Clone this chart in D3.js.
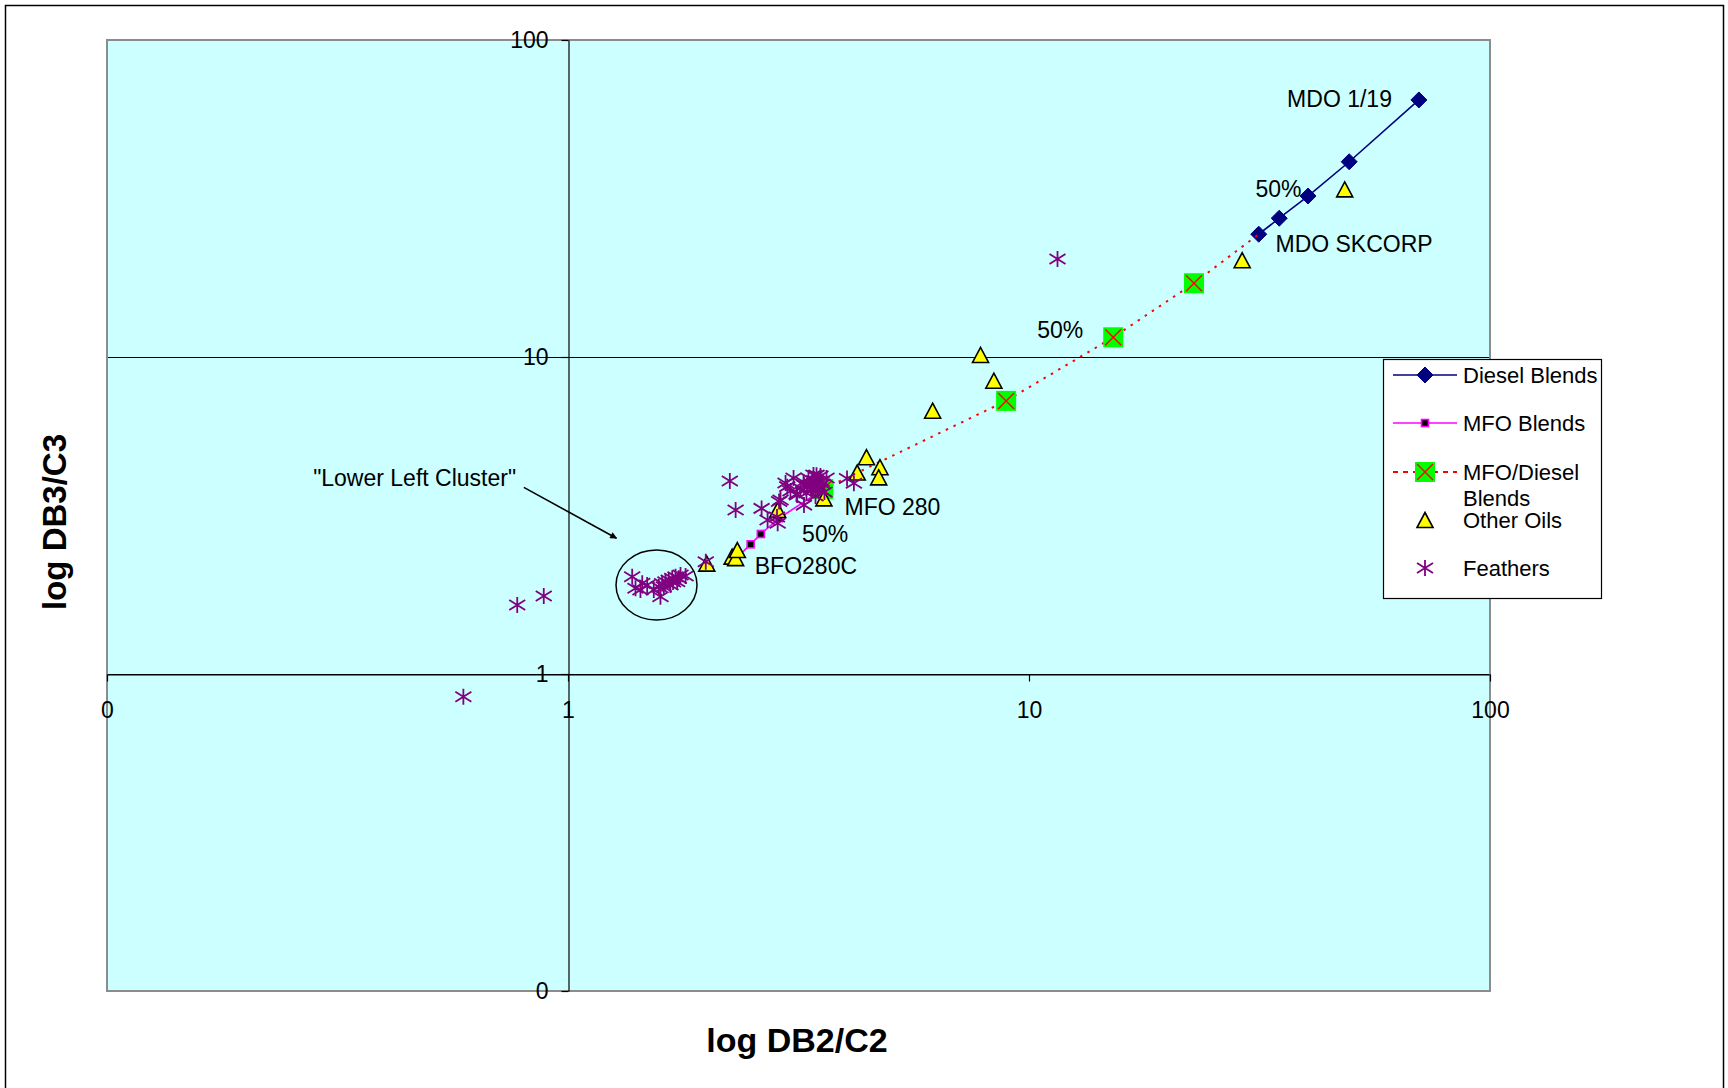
<!DOCTYPE html>
<html>
<head>
<meta charset="utf-8">
<script src="https://cdn.jsdelivr.net/npm/d3@7"></script>
<style>
  html, body { margin: 0; padding: 0; background: #ffffff; }
  svg { display: block; }
  text { font-family: "Liberation Sans", Arial, sans-serif; }
</style>
</head>
<body>
<svg id="chart" width="1728" height="1088"></svg>
<script>
// ---------------- DATA ----------------
const xTicks = [0.1, 1, 10, 100];
const yTicks = [0.1, 1, 10, 100];
const xTitle = "log DB2/C2";
const yTitle = "log DB3/C3";

const seriesNames = ["Diesel Blends", "MFO Blends", "MFO/Diesel Blends", "Other Oils", "Feathers"];

const dieselX = [31.5, 34.9, 40.3, 49.5, 70.1];
const dieselY = [24.4, 27.4, 32.2, 41.3, 64.7];

const mfoX = [2.36, 2.49, 2.62, 2.87, 3.58];
const mfoY = [2.38, 2.565, 2.765, 3.10, 3.83];

const mfoDieselX = [3.58, 8.92, 15.23, 22.8, 31.5];
const mfoDieselY = [3.83, 7.27, 11.54, 17.09, 24.4];

const otherX = [2.00, 2.27, 2.31, 2.33, 2.85, 3.59, 4.24, 4.44, 4.75, 4.72, 6.18, 7.85, 8.39, 29.0, 48.4];
const otherY = [2.23, 2.345, 2.32, 2.46, 3.29, 3.58, 4.32, 4.83, 4.49, 4.17, 6.77, 10.15, 8.42, 20.2, 33.8];

const featherX = [
  0.593, 0.776, 0.886, 11.53,
  1.378, 1.401, 1.449, 1.485, 1.535, 1.587, 1.574, 1.627, 1.654, 1.683, 1.711, 1.754, 1.799, 1.725, 1.668, 1.614, 1.436, 1.60, 1.69, 1.74,
  1.99, 2.244, 2.31, 2.63, 2.71, 2.85, 2.84, 2.87, 2.99, 3.14, 3.25, 3.46,
  2.964, 3.085, 3.194, 3.291, 3.408, 3.529, 3.357, 3.46, 3.565, 3.243, 3.392, 3.494, 3.131, 3.637, 3.324, 3.038, 3.60, 3.443, 2.891,
  3.30, 3.37, 3.42, 3.50, 3.25, 3.55,
  4.03, 4.17
];
const featherY = [
  0.848, 1.651, 1.762, 20.38,
  2.028, 1.864, 1.932, 1.909, 1.841, 1.753, 1.886, 1.955, 1.979, 2.004, 2.028, 2.052, 2.038, 1.955, 1.909, 1.886, 1.841, 1.93, 1.95, 2.00,
  2.26, 4.06, 3.29, 3.33, 3.06, 2.99, 3.13, 3.50, 3.90, 3.67, 3.41, 4.24,
  4.005, 4.152, 3.862, 3.724, 4.244, 4.213, 3.947, 4.005, 3.976, 4.034, 3.805, 3.805, 3.697, 4.152, 4.152, 3.779, 3.751, 3.643, 3.539,
  3.90, 3.85, 4.08, 3.92, 3.95, 4.05,
  4.14, 4.00
];

const annoText = ["MDO 1/19", "50%", "MDO SKCORP", "50%", "MFO 280", "50%", "BFO280C", "\"Lower Left Cluster\""];
const annoX    = [36.3, 31.0, 34.25, 10.42, 3.98, 3.22, 2.542, 0.280];
const annoY    = [61.6, 32.0, 21.5, 11.48, 3.17, 2.615, 2.063, 3.92];

const arrowFrom = [0.802, 3.88];
const arrowTo   = [1.274, 2.68];
const clusterCenter = [1.556, 1.909];

// ---------------- LAYOUT ----------------
const svg = d3.select("#chart");
const plot = { left: 107, right: 1490, top: 40, bottom: 991 };
const fontSize = 23;

const x = d3.scaleLog().domain([0.1, 100]).range([plot.left, plot.right]);
const y = d3.scaleLog().domain([0.1, 100]).range([plot.bottom, plot.top]);

// outer chart border (bottom edge lies just outside the picture)
svg.append("rect").attr("x", 5.5).attr("y", 5.5).attr("width", 1718).attr("height", 1090)
  .attr("fill", "#ffffff").attr("stroke", "#000000").attr("stroke-width", 1.5);

// plot background
svg.append("rect").attr("x", plot.left).attr("y", plot.top)
  .attr("width", plot.right - plot.left).attr("height", plot.bottom - plot.top)
  .attr("fill", "#CCFFFF");

// horizontal gridlines
svg.append("g").selectAll("line").data(yTicks).join("line")
  .attr("x1", plot.left).attr("x2", plot.right)
  .attr("y1", d => Math.round(y(d)) + 0.5).attr("y2", d => Math.round(y(d)) + 0.5)
  .attr("stroke", "#000000").attr("stroke-width", 1.2);

// plot border (grey)
svg.append("rect").attr("x", plot.left).attr("y", plot.top)
  .attr("width", plot.right - plot.left).attr("height", plot.bottom - plot.top)
  .attr("fill", "none").attr("stroke", "#8c8c8c").attr("stroke-width", 2);

const fmt = d => d3.format(".0f")(d);

// y axis crossing at x = 1
const yAxis = svg.append("g")
  .attr("transform", `translate(${Math.round(x(1)) + 0.5},0)`)
  .call(d3.axisLeft(y).tickValues(yTicks).tickFormat(fmt).tickSize(7).tickSizeOuter(0).tickPadding(13));
// x axis crossing at y = 1
const xAxis = svg.append("g")
  .attr("transform", `translate(0,${Math.round(y(1)) + 0.5})`)
  .call(d3.axisBottom(x).tickValues(xTicks).tickFormat(fmt).tickSize(7).tickSizeOuter(0).tickPadding(20));

[yAxis, xAxis].forEach(a => {
  a.selectAll("path.domain").attr("stroke", "#000000").attr("stroke-width", 1.2);
  a.selectAll(".tick line").attr("stroke", "#000000").attr("stroke-width", 1.2);
  a.selectAll("text").attr("font-size", fontSize).attr("fill", "#000000")
    .attr("font-family", "'Liberation Sans', Arial, sans-serif");
});

// axis titles
svg.append("text").attr("x", 797).attr("y", 1052).attr("text-anchor", "middle")
  .attr("font-size", 34).attr("font-weight", "bold").text(xTitle);
svg.append("text").attr("transform", "translate(66,522) rotate(-90)").attr("text-anchor", "middle")
  .attr("font-size", 33).attr("font-weight", "bold").text(yTitle);

// ---------------- MARKERS ----------------
const diamondPath = "M0,-8L8,0L0,8L-8,0Z";
const trianglePath = "M0,-7.5L8,7.5L-8,7.5Z";
const starPath = "M0,-8V8M-8,-5L8,5M-8,5L8,-5";

function drawDiamond(g, cx, cy) {
  g.append("path").attr("d", diamondPath).attr("transform", `translate(${cx},${cy})`)
    .attr("fill", "#000080").attr("stroke", "#000080").attr("stroke-width", 1);
}
function drawMfoSquare(g, cx, cy) {
  g.append("rect").attr("x", cx - 3.5).attr("y", cy - 3.5).attr("width", 7).attr("height", 7)
    .attr("fill", "#000000").attr("stroke", "#FF00FF").attr("stroke-width", 1.6);
}
function drawGreenX(g, cx, cy) {
  g.append("rect").attr("x", cx - 10).attr("y", cy - 10).attr("width", 20).attr("height", 20)
    .attr("fill", "#00FF00");
  g.append("path").attr("d", "M-8,-8L8,8M-8,8L8,-8").attr("transform", `translate(${cx},${cy})`)
    .attr("stroke", "#FF0000").attr("stroke-width", 1.4).attr("fill", "none");
}
function drawTriangle(g, cx, cy) {
  g.append("path").attr("d", trianglePath).attr("transform", `translate(${cx},${cy})`)
    .attr("fill", "#FFFF00").attr("stroke", "#000000").attr("stroke-width", 1.6).attr("stroke-linejoin", "miter");
}
function drawStar(g, cx, cy) {
  g.append("path").attr("d", starPath).attr("transform", `translate(${cx},${cy})`)
    .attr("stroke", "#800080").attr("stroke-width", 1.8).attr("fill", "none");
}

const zip = (xs, ys) => xs.map((v, i) => [v, ys[i]]);
const line = d3.line().x(d => x(d[0])).y(d => y(d[1]));

const marks = svg.append("g");

// Diesel Blends
const dieselPts = zip(dieselX, dieselY);
marks.append("path").attr("d", line(dieselPts)).attr("fill", "none")
  .attr("stroke", "#000080").attr("stroke-width", 1.6);
dieselPts.forEach(p => drawDiamond(marks, x(p[0]), y(p[1])));

// MFO Blends
const mfoPts = zip(mfoX, mfoY);
marks.append("path").attr("d", line(mfoPts)).attr("fill", "none")
  .attr("stroke", "#FF00FF").attr("stroke-width", 1.6);
mfoPts.slice(1, -1).forEach(p => drawMfoSquare(marks, x(p[0]), y(p[1])));

// MFO/Diesel Blends
const mdPts = zip(mfoDieselX, mfoDieselY);
marks.append("path").attr("d", line(mdPts)).attr("fill", "none")
  .attr("stroke", "#FF0000").attr("stroke-width", 2).attr("stroke-dasharray", "2.5,6");
mdPts.slice(0, -1).forEach(p => drawGreenX(marks, x(p[0]), y(p[1])));

// Other Oils
zip(otherX, otherY).forEach(p => drawTriangle(marks, x(p[0]), y(p[1])));

// Feathers
zip(featherX, featherY).forEach(p => drawStar(marks, x(p[0]), y(p[1])));

// ---------------- ANNOTATIONS ----------------
annoText.forEach((t, i) => {
  svg.append("text").attr("x", x(annoX[i])).attr("y", y(annoY[i]))
    .attr("font-size", fontSize).attr("fill", "#000000").text(t);
});

svg.append("defs").append("marker").attr("id", "arrowhead")
  .attr("viewBox", "0 0 10 10").attr("refX", 9).attr("refY", 5)
  .attr("markerWidth", 9).attr("markerHeight", 7).attr("markerUnits", "userSpaceOnUse")
  .attr("orient", "auto")
  .append("path").attr("d", "M0,0L10,5L0,10Z").attr("fill", "#000000");

svg.append("line")
  .attr("x1", x(arrowFrom[0])).attr("y1", y(arrowFrom[1]))
  .attr("x2", x(arrowTo[0])).attr("y2", y(arrowTo[1]))
  .attr("stroke", "#000000").attr("stroke-width", 1.6).attr("marker-end", "url(#arrowhead)");

svg.append("ellipse").attr("cx", x(clusterCenter[0])).attr("cy", y(clusterCenter[1]))
  .attr("rx", 40.5).attr("ry", 35).attr("fill", "none").attr("stroke", "#000000").attr("stroke-width", 1.5);

// ---------------- LEGEND ----------------
const lg = svg.append("g");
lg.append("rect").attr("x", 1383.5).attr("y", 359.5).attr("width", 218).attr("height", 239)
  .attr("fill", "#ffffff").attr("stroke", "#000000").attr("stroke-width", 1.2);

const lx1 = 1393, lx2 = 1457, lmx = 1425, ltx = 1463;
const rowY = [375, 423, 472, 520, 568];

// Diesel
lg.append("line").attr("x1", lx1).attr("x2", lx2).attr("y1", rowY[0]).attr("y2", rowY[0])
  .attr("stroke", "#000080").attr("stroke-width", 1.6);
drawDiamond(lg, lmx, rowY[0]);
// MFO
lg.append("line").attr("x1", lx1).attr("x2", lx2).attr("y1", rowY[1]).attr("y2", rowY[1])
  .attr("stroke", "#FF00FF").attr("stroke-width", 1.6);
drawMfoSquare(lg, lmx, rowY[1]);
// MFO/Diesel
lg.append("line").attr("x1", lx1).attr("x2", lx2).attr("y1", rowY[2]).attr("y2", rowY[2])
  .attr("stroke", "#FF0000").attr("stroke-width", 2).attr("stroke-dasharray", "5,5");
drawGreenX(lg, lmx, rowY[2]);
// Other
drawTriangle(lg, lmx, rowY[3]);
// Feathers
drawStar(lg, lmx, rowY[4]);

const legendLabels = [["Diesel Blends"], ["MFO Blends"], ["MFO/Diesel", "Blends"], ["Other Oils"], ["Feathers"]];
legendLabels.forEach((lines, i) => {
  lines.forEach((t, j) => {
    lg.append("text").attr("x", ltx).attr("y", rowY[i] + j * 26).attr("dy", "0.35em")
      .attr("font-size", 22).attr("fill", "#000000").text(t);
  });
});
</script>
</body>
</html>
